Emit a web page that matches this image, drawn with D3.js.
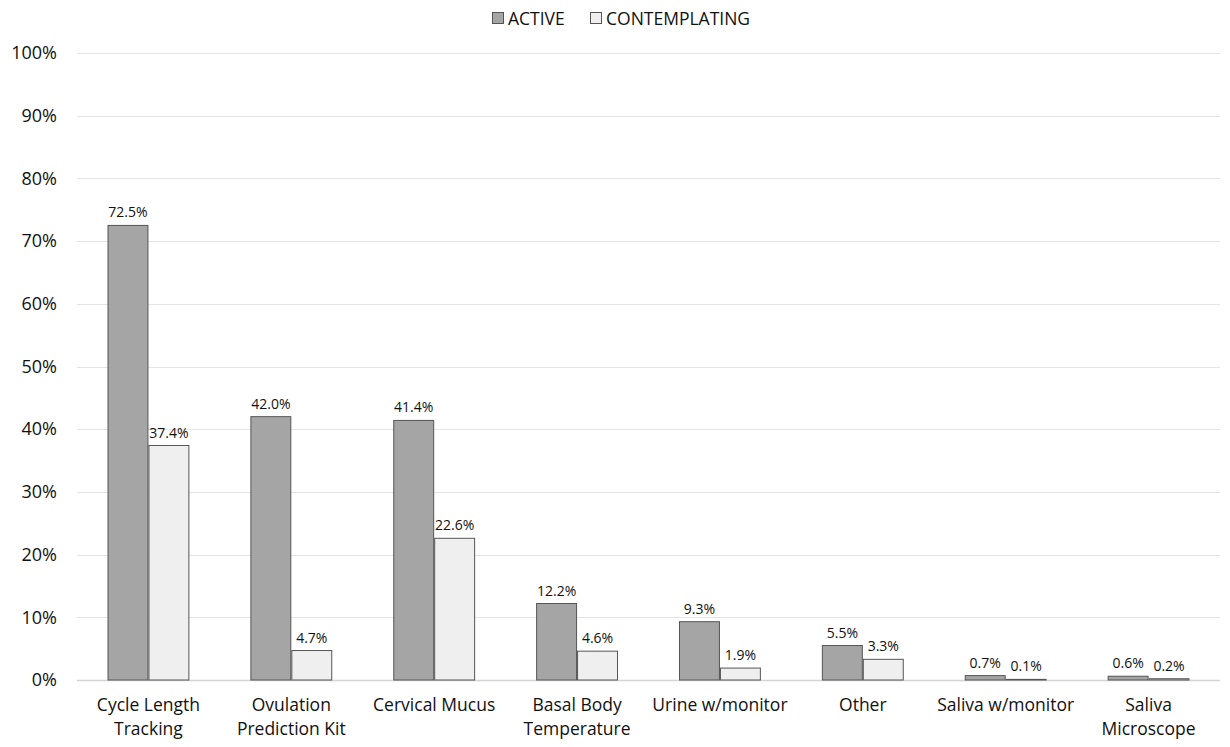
<!DOCTYPE html>
<html>
<head>
<meta charset="utf-8">
<script src="https://cdn.jsdelivr.net/npm/d3@7"></script>
<style>
  html, body { margin: 0; padding: 0; background: #fff; }
  svg { display: block; font-family: "Open Sans", "Liberation Sans", sans-serif; }
</style>
</head>
<body>
<svg id="chart" width="1230" height="747"></svg>
<script>
// Fertility-awareness methods: share of respondents, by user group
const categories = [
  ["Cycle Length", "Tracking"],
  ["Ovulation", "Prediction Kit"],
  ["Cervical Mucus"],
  ["Basal Body", "Temperature"],
  ["Urine w/monitor"],
  ["Other"],
  ["Saliva w/monitor"],
  ["Saliva", "Microscope"]
];
const seriesNames = ["ACTIVE", "CONTEMPLATING"];
const activeValues = [72.5, 42.0, 41.4, 12.2, 9.3, 5.5, 0.7, 0.6];
const contemplatingValues = [37.4, 4.7, 22.6, 4.6, 1.9, 3.3, 0.1, 0.2];
const yTicks = [0, 10, 20, 30, 40, 50, 60, 70, 80, 90, 100];

const seriesValues = [activeValues, contemplatingValues];
const fills = ["#a5a5a5", "#efefef"];
const strokes = ["#555555", "#555555"];
const textColor = "#111111";

const svg = d3.select("#chart");
const margin = { left: 77, right: 10, top: 53, bottom: 67 };
const W = 1230, H = 747;

const x = d3.scaleBand()
  .domain(d3.range(categories.length))
  .range([margin.left, W - margin.right])
  .paddingInner(0.427)
  .paddingOuter(0.2135);

const xs = d3.scaleBand()
  .domain(d3.range(seriesNames.length))
  .range([0, x.bandwidth()]);

const y = d3.scaleLinear().domain([0, 100]).range([H - margin.bottom, margin.top]);

// Gridlines
svg.append("g")
  .selectAll("line")
  .data(yTicks)
  .join("line")
  .attr("x1", margin.left)
  .attr("x2", W - margin.right)
  .attr("y1", d => Math.round(y(d)) + 0.5)
  .attr("y2", d => Math.round(y(d)) + 0.5)
  .attr("stroke", d => d === 0 ? "#d4d4d4" : "#e4e4e4")
  .attr("stroke-width", d => d === 0 ? 1.5 : 1);

// Y axis labels
const yAxis = d3.axisLeft(y).tickValues(yTicks).tickFormat(d => d + "%").tickSize(0).tickPadding(20);
const yg = svg.append("g").attr("transform", `translate(${margin.left},0)`).call(yAxis);
yg.select(".domain").remove();
yg.selectAll("text").attr("font-size", 18).attr("fill", textColor).attr("font-family", "'Open Sans', sans-serif");

// Bars
const groups = svg.append("g")
  .selectAll("g")
  .data(categories.map((c, i) => i))
  .join("g")
  .attr("transform", i => `translate(${x(i)},0)`);

groups.selectAll("rect")
  .data(i => seriesValues.map((vals, s) => ({ s, v: vals[i] })))
  .join("rect")
  .attr("x", d => xs(d.s) + 0.5)
  .attr("y", d => y(d.v))
  .attr("width", xs.bandwidth() - 1)
  .attr("height", d => y(0) - y(d.v))
  .attr("fill", d => fills[d.s])
  .attr("stroke", d => strokes[d.s])
  .attr("stroke-width", 1);

groups.selectAll("text.val")
  .data(i => seriesValues.map((vals, s) => ({ s, v: vals[i] })))
  .join("text")
  .attr("class", "val")
  .attr("x", d => xs(d.s) + xs.bandwidth() / 2)
  .attr("y", d => y(d.v) - 8)
  .attr("text-anchor", "middle")
  .attr("font-size", 14)
  .attr("fill", textColor)
  .text(d => d.v.toFixed(1) + "%");

// Category labels
const xg = svg.append("g");
categories.forEach((lines, i) => {
  const t = xg.append("text")
    .attr("x", x(i) + x.bandwidth() / 2)
    .attr("y", 711)
    .attr("text-anchor", "middle")
    .attr("font-size", 17.5)
    .attr("fill", textColor);
  lines.forEach((ln, k) => {
    t.append("tspan")
      .attr("x", x(i) + x.bandwidth() / 2)
      .attr("dy", k === 0 ? 0 : 24)
      .text(ln);
  });
});

// Legend
const legend = svg.append("g");
const legendX = [492, 590];
seriesNames.forEach((name, s) => {
  legend.append("rect")
    .attr("x", legendX[s] + 0.5)
    .attr("y", 12.5)
    .attr("width", 11)
    .attr("height", 11)
    .attr("fill", fills[s])
    .attr("stroke", strokes[s]);
  legend.append("text")
    .attr("x", legendX[s] + 16)
    .attr("y", 24.5)
    .attr("font-size", 17.5)
    .attr("fill", textColor)
    .text(name);
});
</script>
</body>
</html>
